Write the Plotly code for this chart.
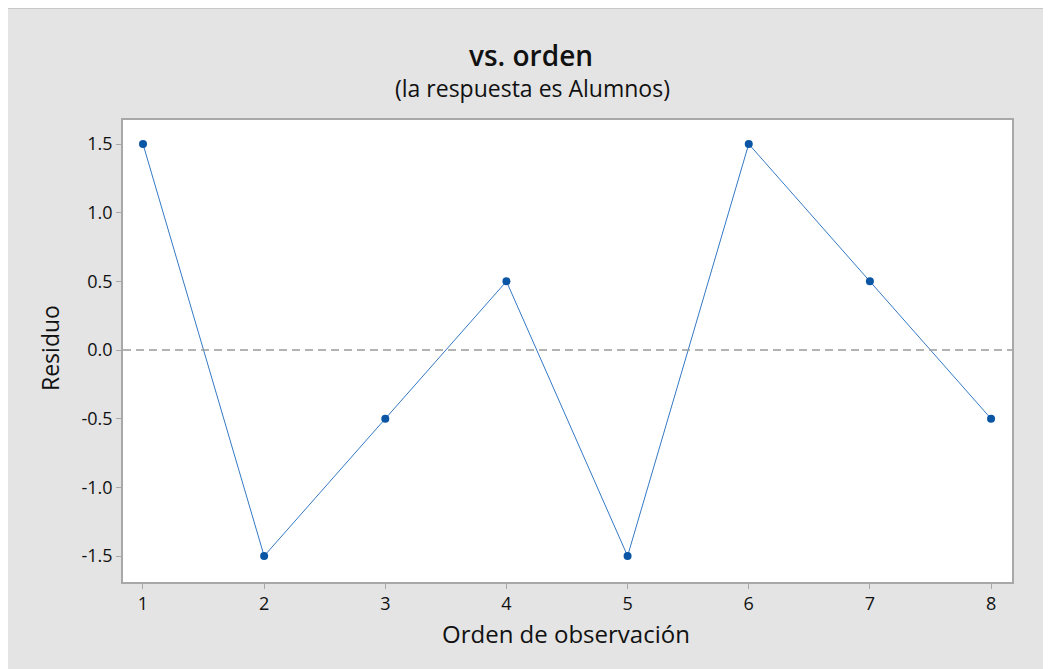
"""Minitab-style residuals vs. observation order plot."""

import plotly.graph_objects as go

# Data
orden = [1, 2, 3, 4, 5, 6, 7, 8]
residuo = [1.5, -1.5, -0.5, 0.5, -1.5, 1.5, 0.5, -0.5]
y_ticks = [-1.5, -1.0, -0.5, 0.0, 0.5, 1.0, 1.5]
y_labels = ["-1.5", "-1.0", "-0.5", "0.0", "0.5", "1.0", "1.5"]

FONT = "Open Sans"
BG = "#e4e4e4"
AXIS_GREY = "#a8a8a8"
INK = "#111111"

# the page puts the figure 8px in from the top-left corner, so all pixel
# positions below are in figure coordinates (screen position minus 8)
W, H = 1051, 669
L, T = 115, 112
R, B = W - 1004, H - 574
PW, PH = W - L - R, H - T - B


def px_x(p):
    return (p - L) / PW


def px_y(p):
    return (H - B - p) / PH


fig = go.Figure()
fig.add_trace(go.Scatter(
    x=orden, y=residuo, mode="lines+markers",
    line=dict(color="#3479c4", width=1),
    marker=dict(color="#0a56a5", size=8),
    hoverinfo="x+y", showlegend=False,
))

fig.add_hline(y=0, line=dict(color="#9a9a9a", width=1.5, dash="8px,5px"))

axis_common = dict(
    showline=True, linecolor=AXIS_GREY, linewidth=1.5, mirror=True,
    showgrid=False, zeroline=False,
    ticks="outside", ticklen=5, tickwidth=1, tickcolor=AXIS_GREY,
    tickfont=dict(family=FONT, size=18, color=INK, weight=500),
)

fig.update_xaxes(range=[0.835, 8.173], tickvals=orden, **axis_common)
fig.update_yaxes(range=[-1.689, 1.675], tickvals=y_ticks, ticktext=y_labels,
                 **axis_common)

annotations = [
    dict(text="vs. orden", x=px_x(523), y=px_y(47),
         font=dict(family=FONT, size=28, color=INK, weight=600)),
    dict(text="(la respuesta es Alumnos)", x=px_x(524), y=px_y(80),
         font=dict(family=FONT, size=23, color=INK, weight=500)),
    dict(text="Orden de observación", x=px_x(558), y=px_y(625),
         font=dict(family=FONT, size=24, color=INK, weight=500)),
    dict(text="Residuo", x=px_x(42), y=px_y(340), textangle=-90,
         font=dict(family=FONT, size=23, color=INK, weight=500)),
]
for a in annotations:
    a.update(xref="paper", yref="paper", showarrow=False,
             xanchor="center", yanchor="middle")

# light frame line along the top and left edges
shapes = [
    dict(type="line", xref="paper", yref="paper", x0=px_x(0), x1=px_x(0),
         y0=px_y(0), y1=px_y(H), line=dict(color="#c8c8c8", width=2)),
    dict(type="line", xref="paper", yref="paper", x0=px_x(0), x1=px_x(W),
         y0=px_y(0), y1=px_y(0), line=dict(color="#c8c8c8", width=2)),
]

fig.update_layout(
    width=W, height=H,
    margin=dict(l=L, r=R, t=T, b=B),
    paper_bgcolor=BG, plot_bgcolor="white",
    annotations=annotations, shapes=shapes,
    font=dict(family=FONT),
)

fig.write_html("out.html")
